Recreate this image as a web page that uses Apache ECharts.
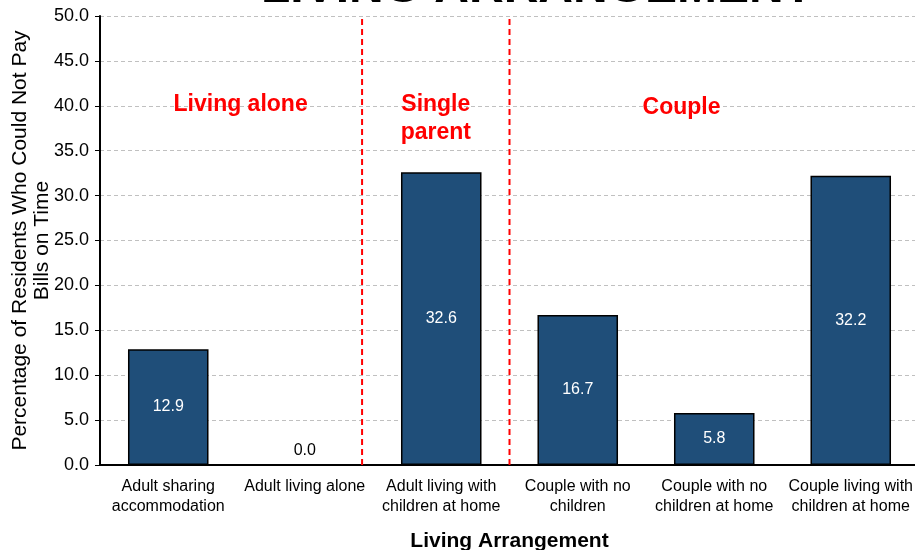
<!DOCTYPE html>
<html><head><meta charset="utf-8">
<script src="https://cdn.jsdelivr.net/npm/echarts@6/dist/echarts.min.js"></script>
<style>html,body{margin:0;padding:0;background:#fff}#c{width:915px;height:550px}</style>
</head><body><div id="c"></div>
<script>
const categories = ['Adult sharing\naccommodation','Adult living alone','Adult living with\nchildren at home','Couple with no\nchildren','Couple with no\nchildren at home','Couple living with\nchildren at home'];
const values = [12.9, 0.0, 32.6, 16.7, 5.8, 32.2];
const dividerPositions = [1.92, 3.0];
const groupLabels = ['Living alone', 'Single\nparent', 'Couple'];
const groupLabelX = [1.03, 2.46, 4.26];
const groupLabelY = [40.1, 38.6, 39.8];
const yTicks = [0, 5, 10, 15, 20, 25, 30, 35, 40, 45, 50];

const chart = echarts.init(document.getElementById('c'));
const font = '"Liberation Sans", Arial, sans-serif';
const narrow = '"Liberation Sans Narrow", "Liberation Sans", sans-serif';
const dividerSeries = dividerPositions.map(p => ({
  type: 'line', xAxisIndex: 1, data: [[p, 0], [p, 50]], symbol: 'none', silent: true,
  lineStyle: {color: '#ff0000', width: 2, type: [6, 4]}, z: 5
}));
chart.setOption({
  animation: false,
  title: {text: 'LIVING ARRANGEMENT', left: 256, top: -40,
    textStyle: {fontFamily: font, fontWeight: 'bold', fontSize: 48, color: '#000'}},
  grid: {left: 100, right: -4, top: 16, bottom: 85, outerBoundsMode: 'none', containLabel: false},
  xAxis: [{
    type: 'category', data: categories,
    axisLine: {lineStyle: {color: '#000', width: 2}},
    axisTick: {show: false},
    axisLabel: {color: '#000', fontSize: 16, fontFamily: narrow, margin: 12, lineHeight: 20, interval: 0},
    name: 'Living Arrangement', nameLocation: 'middle', nameGap: 66, nameMoveOverlap: false,
    nameTextStyle: {fontSize: 21, fontWeight: 'bold', color: '#000', fontFamily: narrow}
  }, {
    type: 'value', min: 0, max: 6, show: false
  }],
  yAxis: {
    type: 'value', min: yTicks[0], max: yTicks[yTicks.length - 1], interval: 5,
    axisLine: {show: true, lineStyle: {color: '#000', width: 2}},
    axisTick: {show: true, length: 5, lineStyle: {color: '#000'}},
    axisLabel: {color: '#000', fontSize: 18, fontFamily: font, formatter: v => v.toFixed(1), margin: 11},
    splitLine: {lineStyle: {color: '#c0c0c0', type: [4, 3]}},
    name: 'Percentage of Residents Who Could Not Pay\nBills on Time', nameLocation: 'middle', nameGap: 47, nameMoveOverlap: false,
    nameTextStyle: {fontSize: 21, color: '#000', fontFamily: font, lineHeight: 22}
  },
  series: [{
    type: 'bar', barWidth: '59%',
    data: values.map(v => ({
      value: v,
      label: v === 0 ? {position: 'top', color: '#000', distance: 6} : {}
    })),
    itemStyle: {color: '#1f4e79', borderColor: '#000', borderWidth: 1.5},
    label: {show: true, position: 'inside', color: '#fff', fontSize: 16, fontFamily: font, formatter: p => p.value.toFixed(1)}
  },
  ...dividerSeries,
  {
    type: 'scatter', xAxisIndex: 1, symbolSize: 0, silent: true,
    itemStyle: {opacity: 1},
    data: groupLabels.map((t, i) => ({value: [groupLabelX[i], groupLabelY[i]], name: t})),
    label: {show: true, position: 'inside', formatter: p => p.name, color: '#ff0000', fontSize: 23,
      fontWeight: 'bold', fontFamily: font, lineHeight: 28}
  }]
});
</script></body></html>
